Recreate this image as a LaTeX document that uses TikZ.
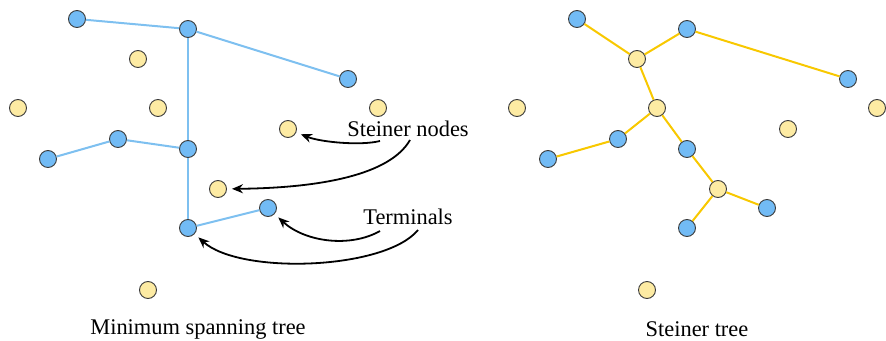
\documentclass[tikz,border=0pt]{standalone}
\usepackage{fontspec}
\setmainfont{Liberation Serif}
\usetikzlibrary{arrows.meta}
\definecolor{termfill}{HTML}{72BBF5}
\definecolor{steinfill}{HTML}{FDEBA3}
\definecolor{mstline}{HTML}{7EC0F0}
\definecolor{stline}{HTML}{F8C800}
\definecolor{nodeline}{HTML}{3A3A3A}
\tikzset{
  term/.style={circle,draw=nodeline,line width=0.9pt,fill=termfill,minimum size=17pt,inner sep=0pt},
  stein/.style={circle,draw=nodeline,line width=0.9pt,fill=steinfill,minimum size=17pt,inner sep=0pt},
  mstedge/.style={draw=mstline,line width=2pt},
  stedge/.style={draw=stline,line width=2pt},
  pointer/.style={draw=black,line width=1.8pt,-{Stealth[length=11pt,width=9pt]},shorten >=5pt},
  lbl/.style={font=\rmfamily\fontsize{22.4}{26}\selectfont,inner sep=0pt}
}
\begin{document}
\begin{tikzpicture}[x=1pt,y=-1pt]
\useasboundingbox (0,0) rectangle (886,340);
% left panel
\node[term] (L1) at (77,19) {};
\node[term] (L2) at (188,29) {};
\node[term] (L3) at (348,79) {};
\node[term] (L4) at (118,139) {};
\node[term] (L5) at (48,159) {};
\node[term] (L6) at (188,149) {};
\node[term] (L7) at (268,208) {};
\node[term] (L8) at (188,228) {};
\node[stein] (LS1) at (138,59) {};
\node[stein] (LS2) at (18,108) {};
\node[stein] (LS3) at (158,108) {};
\node[stein] (LS4) at (378,108) {};
\node[stein] (LS5) at (288,129) {};
\node[stein] (LS6) at (218,189) {};
\node[stein] (LS7) at (148,290) {};
\path[mstedge] (L1) -- (L2);
\path[mstedge] (L2) -- (L3);
\path[mstedge] (L2) -- (L6);
\path[mstedge] (L5) -- (L4);
\path[mstedge] (L4) -- (L6);
\path[mstedge] (L6) -- (L8);
\path[mstedge] (L8) -- (L7);
% right panel
\node[term] (R1) at (577,19) {};
\node[term] (R2) at (687,29) {};
\node[term] (R3) at (848,79) {};
\node[term] (R4) at (618,139) {};
\node[term] (R5) at (548,159) {};
\node[term] (R6) at (687,149) {};
\node[term] (R7) at (767,208) {};
\node[term] (R8) at (687,228) {};
\node[stein] (RS1) at (637,59) {};
\node[stein] (RS2) at (517,108) {};
\node[stein] (RS3) at (657,108) {};
\node[stein] (RS4) at (877,108) {};
\node[stein] (RS5) at (788,129) {};
\node[stein] (RS6) at (718,189) {};
\node[stein] (RS7) at (647,290) {};
\path[stedge] (R1) -- (RS1);
\path[stedge] (RS1) -- (R2);
\path[stedge] (R2) -- (R3);
\path[stedge] (RS1) -- (RS3);
\path[stedge] (RS3) -- (R4);
\path[stedge] (R4) -- (R5);
\path[stedge] (RS3) -- (R6);
\path[stedge] (R6) -- (RS6);
\path[stedge] (RS6) -- (R7);
\path[stedge] (RS6) -- (R8);
% labels
\node[lbl] (sn) at (408,129) {Steiner nodes};
\node[lbl] (tm) at (408,217) {Terminals};
\node[lbl] (cap1) at (198,329) {Minimum spanning tree};
\node[lbl] (cap2) at (697,329) {Steiner tree};
% pointers
\coordinate (p1) at (380,141);
\coordinate (p2) at (410,140);
\coordinate (p3) at (380,231);
\coordinate (p4) at (418,230);
\draw[pointer] (p1) .. controls (360,146) and (320,142) .. (LS5);
\draw[pointer] (p2) .. controls (390,175) and (320,188) .. (LS6);
\draw[pointer] (p3) .. controls (350,248) and (305,242) .. (L7);
\draw[pointer] (p4) .. controls (385,270) and (240,275) .. (L8);
\end{tikzpicture}
\end{document}
